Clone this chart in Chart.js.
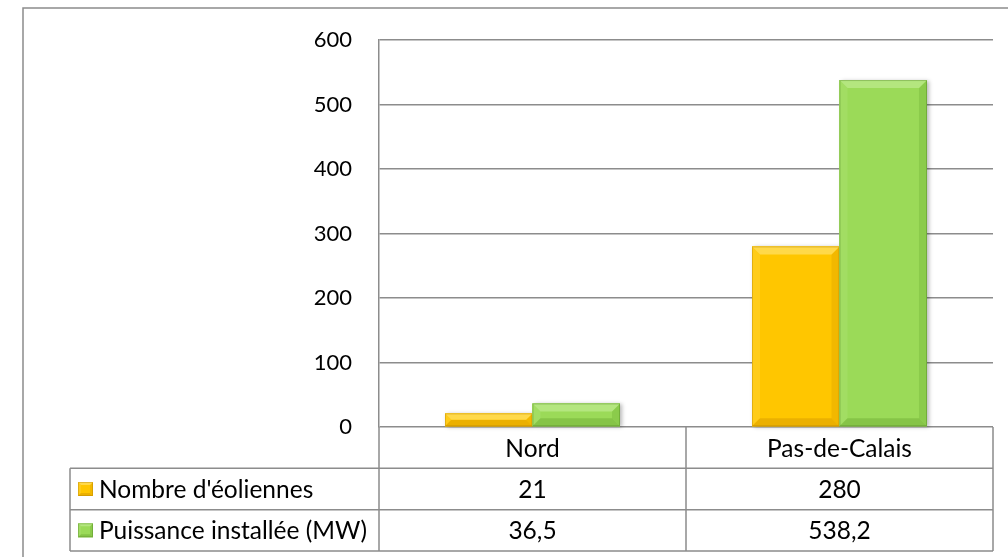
<!DOCTYPE html>
<html>
<head>
<meta charset="utf-8">
<script src="https://cdn.jsdelivr.net/npm/chart.js@4/dist/chart.umd.min.js"></script>
<style>
  html, body { margin: 0; padding: 0; background: #ffffff; }
  #wrap { width: 1008px; height: 557px; position: relative; }
</style>
</head>
<body>
<div id="wrap"><canvas id="c" width="1008" height="557"></canvas></div>
<script>
// Départements et séries
const categories = ['Nord', 'Pas-de-Calais'];
const seriesNames = ["Nombre d'éoliennes", 'Puissance installée (MW)'];
const nombreEoliennes = [21, 280];
const puissanceMW = [36.5, 538.2];
const yTicks = [0, 100, 200, 300, 400, 500, 600];

const FONT = 'Lato, "Open Sans", sans-serif';
const TICK_SIZE = 22;
const TABLE_SIZE = 24.5;
const LINE = '#8c8c8c';

const palettes = [
  { base: '#FFC600', top: '#FFD94A', left: '#FFCC1A', right: '#F2B800', bottom: '#EBB000', edge: 'rgba(160,110,0,0.30)' },
  { base: '#9BDA58', top: '#B4E67F', left: '#A2DD63', right: '#8BCB4B', bottom: '#86C447', edge: 'rgba(60,110,20,0.30)' }
];

function poly(ctx, pts, fill) {
  ctx.beginPath();
  ctx.moveTo(pts[0][0], pts[0][1]);
  for (let i = 1; i < pts.length; i++) ctx.lineTo(pts[i][0], pts[i][1]);
  ctx.closePath();
  ctx.fillStyle = fill;
  ctx.fill();
}

// Bevelled rectangle: flat face with four shaded facets
function bevelRect(ctx, l, t, r, b, p, depth) {
  const d = Math.min(depth, (b - t) / 2, (r - l) / 2);
  ctx.fillStyle = p.base;
  ctx.fillRect(l, t, r - l, b - t);
  poly(ctx, [[l, t], [l + d, t + d], [l + d, b - d], [l, b]], p.left);
  poly(ctx, [[r, t], [r, b], [r - d, b - d], [r - d, t + d]], p.right);
  poly(ctx, [[l, b], [r, b], [r - d, b - d], [l + d, b - d]], p.bottom);
  poly(ctx, [[l, t], [r, t], [r - d, t + d], [l + d, t + d]], p.top);
  ctx.strokeStyle = p.edge;
  ctx.lineWidth = 1;
  ctx.strokeRect(l + 0.5, t + 0.5, r - l - 1, b - t - 1);
}

const framePlugin = {
  id: 'frame',
  beforeDraw(chart) {
    const ctx = chart.ctx;
    ctx.save();
    ctx.fillStyle = '#ffffff';
    ctx.fillRect(0, 0, chart.width, chart.height);
    ctx.strokeStyle = LINE;
    ctx.lineWidth = 1.5;
    ctx.beginPath();
    ctx.moveTo(23, chart.height);
    ctx.lineTo(23, 8);
    ctx.lineTo(chart.width, 8);
    ctx.stroke();
    ctx.restore();
  }
};

const bevelPlugin = {
  id: 'bevelBars',
  afterDatasetsDraw(chart) {
    const ctx = chart.ctx;
    ctx.save();
    chart.data.datasets.forEach((ds, di) => {
      const meta = chart.getDatasetMeta(di);
      meta.data.forEach(el => {
        const { x, y, base, width } = el.getProps(['x', 'y', 'base', 'width'], true);
        const l = x - width / 2, r = x + width / 2;
        ctx.save();
        ctx.shadowColor = 'rgba(0,0,0,0.28)';
        ctx.shadowBlur = 4;
        ctx.shadowOffsetX = 2;
        ctx.shadowOffsetY = 1;
        ctx.fillStyle = palettes[di].base;
        ctx.fillRect(l, y, r - l, base - y);
        ctx.restore();
        bevelRect(ctx, l, y, r, base, palettes[di], 8);
      });
    });
    ctx.restore();
  }
};

const tablePlugin = {
  id: 'dataTable',
  afterDraw(chart) {
    const { ctx, chartArea: a, scales: { x } } = chart;
    const n = categories.length;
    const colW = a.width / n;
    const tableLeft = 70;
    const tableBottom = 551;
    const rowH = (tableBottom - a.bottom) / 3;
    const rows = [nombreEoliennes, puissanceMW];
    ctx.save();
    ctx.strokeStyle = LINE;
    ctx.lineWidth = 1.5;
    ctx.beginPath();
    // header row (category names) under the plot
    ctx.moveTo(a.left, a.bottom); ctx.lineTo(a.left, tableBottom);
    for (let i = 0; i < n; i++) {
      const xr = x.getPixelForValue(i) + colW / 2;
      ctx.moveTo(xr, a.bottom); ctx.lineTo(xr, tableBottom);
    }
    for (let k = 1; k <= 3; k++) {
      const yy = a.bottom + rowH * k;
      ctx.moveTo(tableLeft, yy); ctx.lineTo(a.right, yy);
    }
    ctx.moveTo(tableLeft, a.bottom + rowH); ctx.lineTo(tableLeft, tableBottom);
    ctx.stroke();

    ctx.fillStyle = '#000000';
    ctx.font = TABLE_SIZE + 'px ' + FONT;
    ctx.textBaseline = 'middle';
    ctx.textAlign = 'center';
    categories.forEach((c, i) => {
      ctx.fillText(c, x.getPixelForValue(i), a.bottom + rowH / 2 + 1);
    });
    rows.forEach((vals, ri) => {
      const yc = a.bottom + rowH * (ri + 1.5) + 1;
      ctx.textAlign = 'center';
      vals.forEach((v, i) => {
        ctx.fillText(v.toLocaleString('fr-FR'), x.getPixelForValue(i), yc);
      });
      bevelRect(ctx, 78, yc - 8, 93, yc + 6, palettes[ri], 3);
      ctx.fillStyle = '#000000';
      ctx.textAlign = 'left';
      ctx.fillText(seriesNames[ri], 99, yc);
    });
    ctx.restore();
  }
};

new Chart(document.getElementById('c'), {
  type: 'bar',
  data: {
    labels: categories,
    datasets: [
      { label: seriesNames[0], data: nombreEoliennes, backgroundColor: palettes[0].base, borderWidth: 0 },
      { label: seriesNames[1], data: puissanceMW, backgroundColor: palettes[1].base, borderWidth: 0 }
    ]
  },
  options: {
    responsive: false,
    devicePixelRatio: 1,
    animation: false,
    events: [],
    layout: { padding: { top: 38, right: 15, bottom: 130, left: 0 } },
    datasets: { bar: { categoryPercentage: 0.57, barPercentage: 1.0 } },
    plugins: { legend: { display: false }, tooltip: { enabled: false } },
    scales: {
      x: { display: false },
      y: {
        min: 0, max: 600,
        afterBuildTicks(scale) { scale.ticks = yTicks.map(v => ({ value: v })); },
        afterFit(scale) { scale.width = 379; },
        ticks: {
          padding: 27,
          color: '#000000',
          font: { family: FONT, size: TICK_SIZE }
        },
        grid: { color: LINE, lineWidth: 1.5, drawTicks: false },
        border: { display: true, color: LINE, width: 1.5 }
      }
    }
  },
  plugins: [framePlugin, bevelPlugin, tablePlugin]
});
</script>
</body>
</html>
